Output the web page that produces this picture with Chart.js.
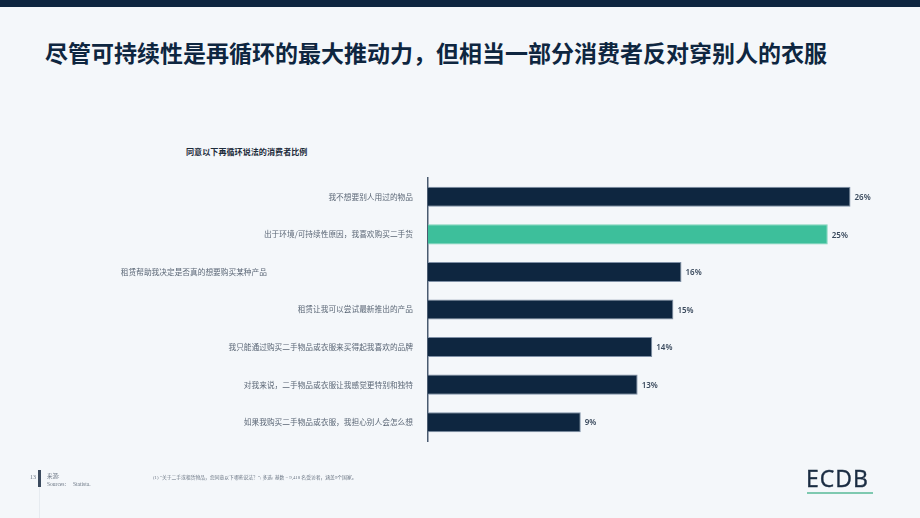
<!DOCTYPE html>
<html>
<head>
<meta charset="utf-8">
<script src="https://cdn.jsdelivr.net/npm/chart.js@4"></script>
<style>
  html, body { margin: 0; padding: 0; }
  body { width: 920px; height: 518px; background: #f4f7fa; position: relative; overflow: hidden; font-family: "Noto Sans CJK SC", "Noto Sans", sans-serif; }
  #topbar { position: absolute; left: 0; top: 0; width: 920px; height: 7px; background: #0e2640; }
  #title { position: absolute; left: 45px; top: 36px; font-size: 23px; font-weight: 700; color: #0e2640; white-space: nowrap; line-height: 32px; }
  #subtitle { position: absolute; left: 186px; top: 146px; font-size: 8.1px; font-weight: 700; color: #1c2b3b; white-space: nowrap; line-height: 12px; }
  #wrap { position: absolute; left: 0; top: 0; width: 920px; height: 518px; }
  #pagenum { position: absolute; left: 30px; top: 474px; font-size: 6px; color: #6c7785; font-family: "Liberation Serif", serif; }
  #vbar { position: absolute; left: 38px; top: 470px; width: 2.5px; height: 17px; background: #3b4a5e; }
  #vline { position: absolute; left: 39px; top: 487px; width: 1px; height: 31px; background: #e6ebf0; }
  .foot { position: absolute; font-size: 5.5px; color: #6c7785; white-space: nowrap; font-family: "Liberation Serif", "Noto Sans CJK SC", serif; }
  #note { font-size: 4.8px; }
  #logo { position: absolute; left: 806px; top: 461px; font-size: 23px; font-weight: 500; color: #1a2c42; font-family: "Open Sans", "Liberation Sans", sans-serif; letter-spacing: 1px; line-height: 34px; -webkit-text-stroke: 0.4px #1a2c42; }
  #logoline { position: absolute; left: 807px; top: 492px; width: 66px; height: 2px; background: #7ec9b0; }
</style>
</head>
<body>
<div id="topbar"></div>
<div id="title">尽管可持续性是再循环的最大推动力，但相当一部分消费者反对穿别人的衣服</div>
<div id="subtitle">同意以下再循环说法的消费者比例</div>
<div id="wrap"><canvas id="c" width="920" height="518"></canvas></div>
<div id="pagenum">13</div>
<div id="vbar"></div>
<div id="vline"></div>
<div class="foot" style="left:47px; top:472px;">来源:</div>
<div class="foot" style="left:47px; top:481px;">Sources:</div>
<div class="foot" style="left:73px; top:481px;">Statista.</div>
<div class="foot" id="note" style="left:153px; top:473px;">(1) “关于二手或租赁物品，您同意以下哪些说法？”; 多选; 基数 = 9,418 名受访者，涵盖9个国家。</div>
<div id="logo">ECDB</div>
<div id="logoline"></div>
<script>
const categories = [
  "我不想要别人用过的物品",
  "出于环境/可持续性原因，我喜欢购买二手货",
  "租赁帮助我决定是否真的想要购买某种产品",
  "租赁让我可以尝试最新推出的产品",
  "我只能通过购买二手物品或衣服来买得起我喜欢的品牌",
  "对我来说，二手物品或衣服让我感觉更特别和独特",
  "如果我购买二手物品或衣服，我担心别人会怎么想"
];
const shares = [26.0, 24.6, 15.6, 15.1, 13.8, 12.9, 9.4];
const highlightIndex = 1;

const DARK = '#0e2640';
const GREEN = '#3dbf9b';

const valueLabels = {
  id: 'valueLabels',
  afterDatasetsDraw(chart) {
    const ctx = chart.ctx;
    const meta = chart.getDatasetMeta(0);
    ctx.save();
    ctx.font = '600 8px "Noto Sans", "Open Sans", sans-serif';
    ctx.fillStyle = '#3a4a5d';
    ctx.textAlign = 'left';
    ctx.textBaseline = 'middle';
    meta.data.forEach((bar, i) => {
      ctx.fillText(Math.round(shares[i]) + '%', bar.x + 4, bar.y + 1);
    });
    ctx.restore();
  }
};

new Chart(document.getElementById('c'), {
  type: 'bar',
  data: {
    labels: categories,
    datasets: [{
      data: shares,
      backgroundColor: shares.map((v, i) => i === highlightIndex ? GREEN : DARK),
      borderColor: shares.map((v, i) => i === highlightIndex ? '#7fd3b9' : '#7f90a6'),
      borderWidth: 1,
      borderSkipped: 'left',
      categoryPercentage: 1,
      barPercentage: 0.535
    }]
  },
  options: {
    indexAxis: 'y',
    responsive: false,
    animation: false,
    devicePixelRatio: 1,
    layout: { padding: { top: 178, bottom: 77, left: 0, right: 37 } },
    plugins: { legend: { display: false }, tooltip: { enabled: false } },
    scales: {
      x: { display: false, min: 0, max: 28 },
      y: {
        grid: { display: false },
        border: { display: true, color: '#4a5b70', width: 1.5 },
        ticks: {
          padding: 7,
          color: '#5b6776',
          font: { family: '"Noto Sans CJK SC", sans-serif', size: 7.7 },
          callback: function(value, index) {
            const label = categories[index];
            return index === 2 ? label + '\u3000'.repeat(19) : label;
          }
        },
        afterFit(scale) { scale.width = 428; }
      }
    }
  },
  plugins: [valueLabels]
});
</script>
</body>
</html>
